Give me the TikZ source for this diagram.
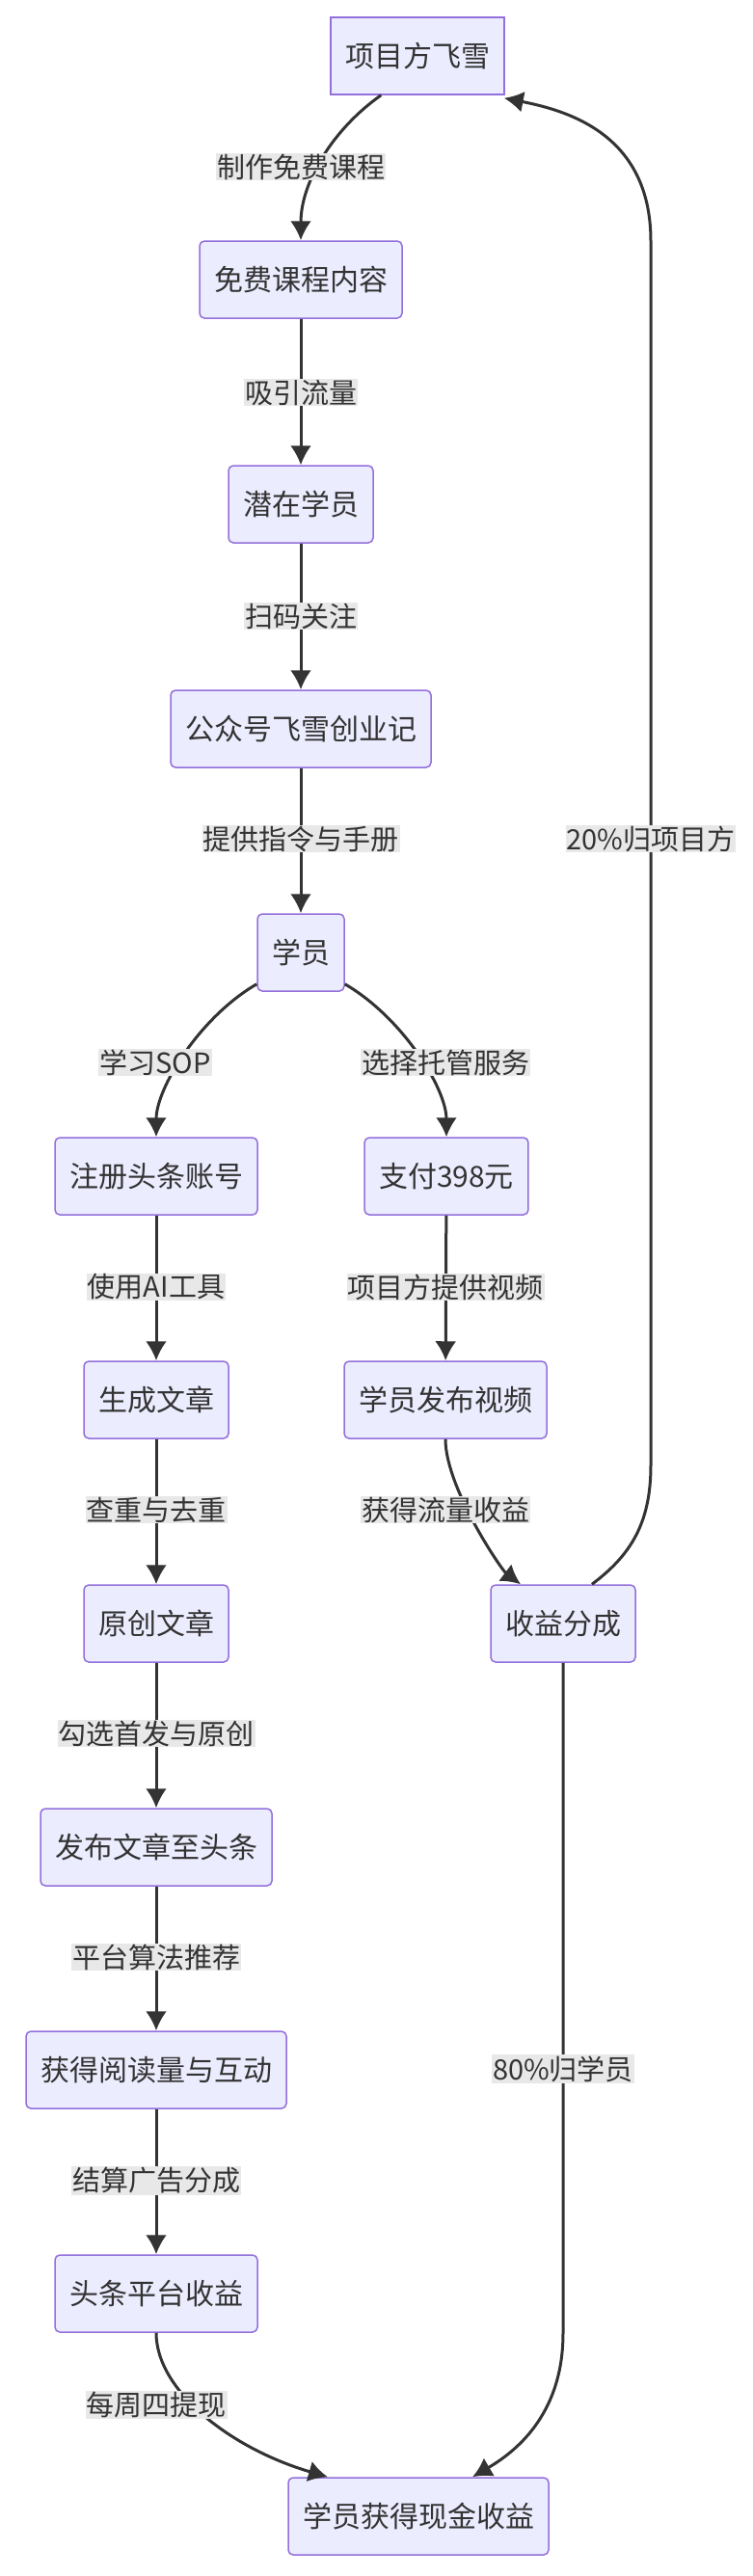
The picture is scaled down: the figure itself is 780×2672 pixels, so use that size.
\documentclass[tikz,border=0pt]{standalone}
\usepackage{fontspec}
\setmainfont{Noto Sans CJK SC}
\usetikzlibrary{arrows.meta}
\definecolor{nfill}{HTML}{ECECFF}
\definecolor{nbord}{HTML}{9370DB}
\definecolor{ln}{HTML}{333333}
\definecolor{lbg}{HTML}{E8E8E8}
\begin{document}
\begin{tikzpicture}[x=1pt,y=-1pt,
 box/.style={draw=nbord,fill=nfill,line width=1.5pt,rounded corners=5pt,minimum height=80pt,inner xsep=15pt,font=\fontsize{30}{34}\selectfont,text=ln},
 lab/.style={fill=lbg,inner sep=1pt,font=\fontsize{29}{33}\selectfont,text=ln},
 e/.style={draw=ln,line width=3pt,-{Latex[length=20pt,width=22pt]}}]
\useasboundingbox (0,0) rectangle (780,2672);
\node[box,rounded corners=0pt] (a) at (433,58) {项目方飞雪};
\node[box] (b) at (312,290) {免费课程内容};
\node[box] (c) at (312,523) {潜在学员};
\node[box] (d) at (312,756) {公众号飞雪创业记};
\node[box] (s) at (312,988) {学员};
\node[box] (r1) at (162,1220) {注册头条账号};
\node[box] (p1) at (463,1220) {支付398元};
\node[box] (r2) at (162,1452) {生成文章};
\node[box] (p2) at (462,1452) {学员发布视频};
\node[box] (r3) at (162,1684) {原创文章};
\node[box] (sp) at (584,1684) {收益分成};
\node[box] (r4) at (162,1916) {发布文章至头条};
\node[box] (r5) at (162,2147) {获得阅读量与互动};
\node[box] (r6) at (162,2379) {头条平台收益};
\node[box] (f) at (434,2610) {学员获得现金收益};
% edges
\draw[e] (a.south west)++(53,0) .. controls +(-50,35) and +(0,-60) .. (b.north);
\draw[e] (b) -- (c);
\draw[e] (c) -- (d);
\draw[e] (d) -- (s);
\draw[e] (s.south west)++(0,-8) .. controls +(-60,35) and +(0,-50) .. (r1.north);
\draw[e] (s.south east)++(0,-8) .. controls +(60,35) and +(0,-50) .. (p1.north);
\draw[e] (r1) -- (r2);
\draw[e] (r2) -- (r3);
\draw[e] (r3) -- (r4);
\draw[e] (r4) -- (r5);
\draw[e] (r5) -- (r6);
\draw[e] (p1) -- (p2);
\draw[e] (p2.south) .. controls +(0,50) and +(-20,-15) .. ([xshift=-44pt]sp.north);
\draw[e] ([xshift=30pt]sp.north) .. controls +(40,-30) and +(0,60) .. (675,1520) -- (675,250) .. controls (675,140) and (590,115) .. ([xshift=-1pt,yshift=-3pt]a.south east);
\draw[e] (sp.south) -- (584,2420) .. controls (584,2500) and (540,2540) .. ([xshift=56pt]f.north);
\draw[e] (r6.south) .. controls (162,2480) and (240,2540) .. ([xshift=-94pt]f.north);
% labels
\node[lab] (l1) at (312,173) {制作免费课程};
\node[lab] (l2) at (312,407) {吸引流量};
\node[lab] (l3) at (312,639) {扫码关注};
\node[lab] (l4) at (312,870) {提供指令与手册};
\node[lab] (l5) at (675,870) {20\%归项目方};
\node[lab] (l6) at (161,1102) {学习SOP};
\node[lab] (l7) at (462,1102) {选择托管服务};
\node[lab] (l8) at (162,1335) {使用AI工具};
\node[lab] (l9) at (462,1335) {项目方提供视频};
\node[lab] (l10) at (162,1566) {查重与去重};
\node[lab] (l11) at (462,1566) {获得流量收益};
\node[lab] (l12) at (162,1798) {勾选首发与原创};
\node[lab] (l13) at (162,2030) {平台算法推荐};
\node[lab] (l14) at (162,2262) {结算广告分成};
\node[lab] (l15) at (584,2146) {80\%归学员};
\node[lab] (l16) at (162,2494) {每周四提现};
\end{tikzpicture}
\end{document}
